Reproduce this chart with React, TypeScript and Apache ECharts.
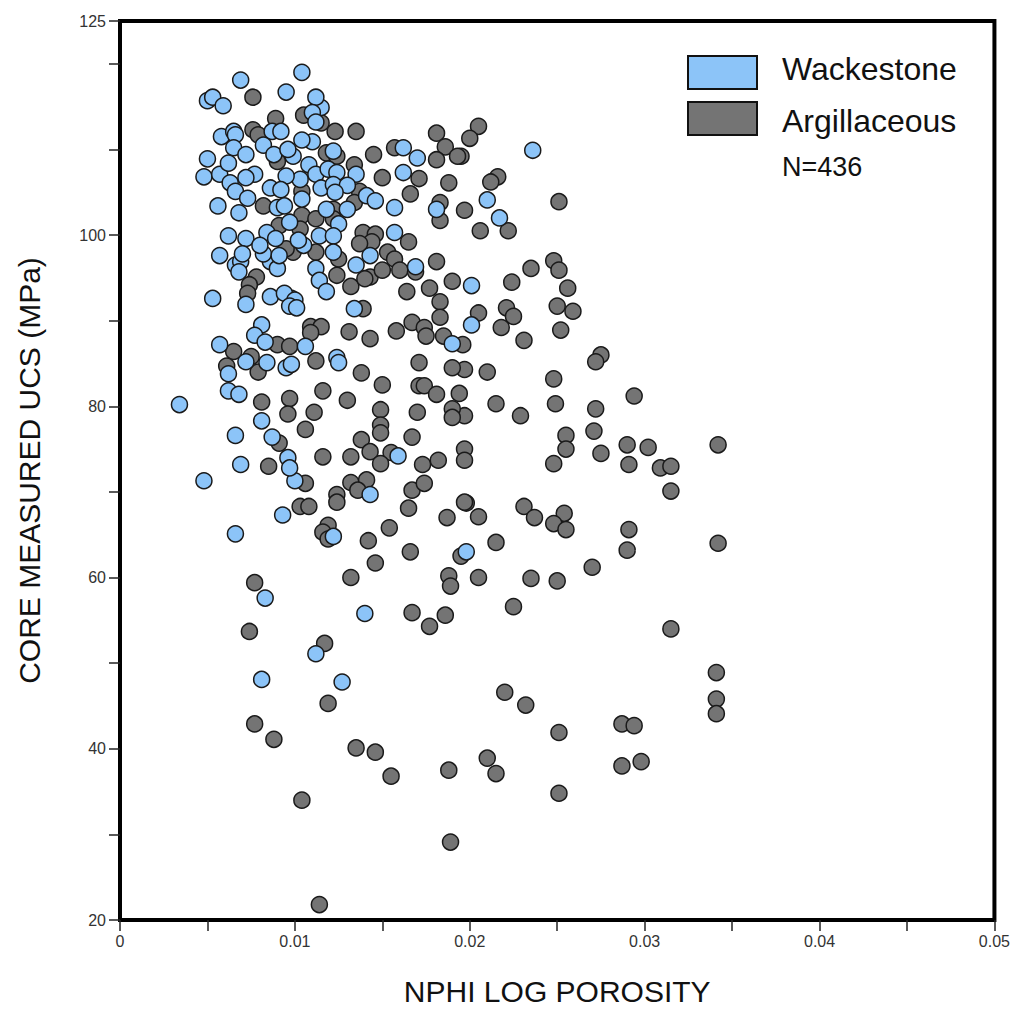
import React, { useEffect, useRef } from "react";
import * as echarts from "echarts";

const seriesNames = ["Wackestone", "Argillaceous"];
const sampleCountLabel = "N=436";
const xTitle = "NPHI LOG POROSITY";
const yTitle = "CORE MEASURED UCS (MPa)";

// [NPHI porosity, UCS MPa]
const argillaceous: [number, number][] = [
  [0.0315,70.1],[0.0198,68.7],[0.0187,67.0],[0.0205,67.1],[0.0231,68.3],[0.0237,67.0],[0.0254,67.5],[0.0248,66.3],[0.0255,65.6],[0.0291,65.6],
  [0.0342,64.0],[0.0215,64.1],[0.0290,63.2],[0.0195,62.5],[0.0270,61.2],[0.0188,60.2],[0.0189,59.0],[0.0205,60.0],[0.0235,59.9],[0.0250,59.6],
  [0.0225,56.6],[0.0186,55.6],[0.0315,54.0],[0.0341,48.9],[0.0220,46.6],[0.0232,45.1],[0.0341,45.8],[0.0341,44.1],[0.0287,42.9],[0.0294,42.7],
  [0.0251,41.9],[0.0210,38.9],[0.0215,37.1],[0.0188,37.5],[0.0287,38.0],[0.0298,38.5],[0.0251,34.8],[0.0189,29.1],
  [0.0106,71.0],[0.0132,71.1],[0.0141,71.4],[0.0136,70.2],[0.0124,69.7],[0.0124,68.8],[0.0167,70.2],[0.0174,71.0],[0.0103,68.3],[0.0108,68.3],
  [0.0165,68.1],[0.0197,68.8],[0.0119,66.1],[0.0116,65.3],[0.0119,64.5],[0.0154,65.8],[0.0142,64.3],[0.0166,63.0],[0.0146,61.7],[0.0077,59.4],
  [0.0132,60.0],[0.0167,55.9],[0.0177,54.3],[0.0074,53.7],[0.0117,52.3],[0.0119,45.3],[0.0077,42.9],[0.0088,41.1],[0.0135,40.1],[0.0146,39.6],
  [0.0155,36.8],[0.0104,34.0],[0.0114,21.8],
  [0.0205,112.7],[0.0200,111.3],[0.0195,109.2],[0.0216,106.8],[0.0212,106.2],[0.0197,102.9],[0.0251,103.9],[0.0206,100.5],[0.0222,100.5],[0.0248,97.0],
  [0.0251,95.9],[0.0235,96.1],[0.0224,94.5],[0.0256,93.8],[0.0250,91.7],[0.0259,91.1],[0.0221,91.5],[0.0225,90.5],[0.0205,90.9],[0.0218,89.2],
  [0.0252,88.9],[0.0231,87.7],[0.0196,87.2],[0.0275,86.0],[0.0272,85.2],[0.0197,84.3],[0.0210,84.0],[0.0248,83.2],[0.0194,81.5],[0.0215,80.3],
  [0.0229,78.9],[0.0249,80.3],[0.0272,79.7],[0.0294,81.2],[0.0197,78.9],[0.0255,76.6],[0.0255,75.0],[0.0271,77.1],[0.0275,74.5],[0.0290,75.5],
  [0.0302,75.2],[0.0342,75.5],[0.0197,75.0],[0.0197,73.7],[0.0248,73.3],[0.0291,73.2],[0.0309,72.8],[0.0315,73.0],
  [0.0105,114.0],[0.0115,113.1],[0.0123,112.1],[0.0135,112.1],[0.0118,109.6],[0.0124,109.2],[0.0145,109.4],[0.0157,110.2],[0.0181,111.9],[0.0186,110.3],
  [0.0181,108.8],[0.0193,109.2],[0.0134,108.2],[0.0150,106.7],[0.0171,106.6],[0.0188,106.1],[0.0104,105.1],[0.0137,105.1],[0.0166,104.8],[0.0134,103.8],
  [0.0122,103.0],[0.0183,103.8],[0.0183,101.7],[0.0104,102.3],[0.0112,101.9],[0.0122,101.9],[0.0103,100.7],[0.0139,100.3],[0.0146,100.1],[0.0144,99.2],
  [0.0137,99.0],[0.0165,99.2],[0.0112,98.0],[0.0125,97.2],[0.0153,98.0],[0.0157,97.2],[0.0124,95.3],[0.0143,95.1],[0.0150,95.9],[0.0160,95.9],
  [0.0169,95.7],[0.0181,96.9],[0.0132,94.0],[0.0140,94.9],[0.0164,93.4],[0.0177,93.8],[0.0190,94.6],
  [0.0183,92.2],[0.0183,90.4],[0.0139,91.4],[0.0167,89.8],[0.0174,89.2],[0.0175,88.2],[0.0158,88.8],[0.0131,88.7],[0.0143,87.9],[0.0185,88.2],
  [0.0171,85.1],[0.0190,84.5],[0.0138,83.9],[0.0150,82.5],[0.0171,82.4],[0.0174,82.4],[0.0181,81.4],[0.0130,80.7],[0.0149,79.6],[0.0170,79.3],
  [0.0190,79.7],[0.0190,78.7],[0.0149,77.8],[0.0149,76.9],[0.0138,76.1],[0.0167,76.4],[0.0132,74.1],[0.0143,74.7],[0.0155,74.6],[0.0149,73.3],
  [0.0173,73.2],[0.0182,73.7],
  [0.0078,95.1],[0.0074,94.2],[0.0073,93.2],[0.0099,98.0],[0.0098,92.6],[0.0109,89.3],[0.0115,89.3],[0.0109,88.6],[0.0065,86.4],[0.0075,85.8],
  [0.0079,84.0],[0.0090,87.2],[0.0097,87.0],[0.0112,85.3],[0.0061,84.7],[0.0081,80.5],[0.0097,80.9],[0.0116,81.8],[0.0096,79.1],[0.0111,79.3],
  [0.0106,77.3],[0.0091,75.7],[0.0116,74.1],[0.0085,73.0],
  [0.0076,116.1],[0.0089,113.6],[0.0076,112.3],[0.0079,111.7],[0.0090,108.6],[0.0082,103.4],[0.0091,101.1],[0.0095,98.4],
];

const wackestone: [number, number][] = [
  [0.0198,63.0],[0.0048,71.3],[0.0100,71.3],[0.0143,69.7],[0.0093,67.3],[0.0122,64.8],[0.0066,65.1],[0.0083,57.6],[0.0140,55.8],[0.0112,51.1],
  [0.0081,48.1],[0.0127,47.8],
  [0.0236,109.9],[0.0210,104.1],[0.0217,102.0],[0.0201,94.1],[0.0201,89.5],[0.0190,87.3],
  [0.0115,114.9],[0.0110,110.9],[0.0104,111.1],[0.0122,109.8],[0.0162,110.2],[0.0170,109.0],[0.0108,108.2],[0.0112,107.1],[0.0119,107.7],[0.0124,107.3],
  [0.0135,107.1],[0.0162,107.3],[0.0103,106.5],[0.0115,105.5],[0.0122,105.9],[0.0130,105.8],[0.0123,105.0],[0.0141,104.6],[0.0146,104.0],[0.0118,103.0],
  [0.0130,103.0],[0.0157,103.2],[0.0181,103.0],[0.0125,101.3],[0.0114,99.9],[0.0122,99.9],[0.0157,100.3],[0.0105,98.8],[0.0122,98.0],[0.0143,97.6],
  [0.0112,96.1],[0.0135,96.5],[0.0169,96.3],[0.0114,94.7],[0.0118,93.4],
  [0.0134,91.4],[0.0124,85.7],[0.0125,85.1],[0.0159,74.2],
  [0.0057,97.6],[0.0066,96.5],[0.0069,96.9],[0.0068,95.7],[0.0086,96.9],[0.0090,96.1],[0.0082,97.8],[0.0091,97.6],[0.0053,92.6],[0.0072,91.9],
  [0.0086,92.8],[0.0094,93.2],[0.0100,92.4],[0.0097,91.7],[0.0101,91.5],[0.0081,89.5],[0.0077,88.3],[0.0083,87.5],[0.0057,87.2],[0.0072,85.2],
  [0.0084,85.1],[0.0095,84.5],[0.0098,84.9],[0.0106,87.0],[0.0062,83.8],[0.0062,81.8],[0.0068,81.4],[0.0034,80.2],[0.0081,78.3],[0.0066,76.6],
  [0.0087,76.4],[0.0096,74.0],[0.0069,73.2],[0.0097,72.8],
  [0.0104,119.0],[0.0069,118.1],[0.0095,116.7],[0.0050,115.7],[0.0053,116.1],[0.0059,115.1],[0.0112,116.1],[0.0110,114.3],[0.0112,113.2],[0.0058,111.5],
  [0.0065,112.1],[0.0066,111.7],[0.0087,112.1],[0.0092,112.1],[0.0050,108.9],[0.0065,110.2],[0.0072,109.4],[0.0082,110.5],[0.0088,109.4],[0.0099,109.2],
  [0.0096,110.0],[0.0048,106.8],[0.0057,107.1],[0.0062,108.4],[0.0077,107.1],[0.0072,106.7],[0.0095,106.9],[0.0063,106.1],[0.0066,105.1],[0.0086,105.5],
  [0.0092,105.3],[0.0104,104.2],[0.0073,104.3],[0.0090,103.2],[0.0094,103.4],[0.0056,103.4],[0.0068,102.6],[0.0097,101.5],[0.0084,100.3],[0.0062,99.9],
  [0.0072,99.6],[0.0080,98.8],[0.0089,99.6],[0.0102,99.4],[0.0070,97.8],
];

const xMin = 0, xMax = 0.05, xStep = 0.005;
const yMin = 20, yMax = 125, yStep = 10;
const yLabelValues = [20, 40, 60, 80, 100, 125];

const BLUE = "#8CC4F8";
const GRAY = "#747474";
const EDGE = "#1a1a1a";
const FONT = "'Liberation Sans', Arial, sans-serif";

export default function App() {
  const ref = useRef<HTMLDivElement>(null);
  useEffect(() => {
    if (!ref.current) return;
    const chart = echarts.init(ref.current, null, { renderer: "svg" });
    const tickStyle = { color: "#222", width: 1.5 };
    chart.setOption({
      animation: false,
      backgroundColor: "#fff",
      grid: {
        left: 120, right: 18, top: 21, bottom: 83,
        show: true, borderColor: "#000", borderWidth: 4, backgroundColor: "transparent",
      },
      xAxis: {
        type: "value", min: xMin, max: xMax, interval: xStep,
        axisLine: { show: false },
        axisTick: { show: true, length: 11, lineStyle: tickStyle },
        splitLine: { show: false },
        axisLabel: {
          fontSize: 16, color: "#333", fontFamily: FONT, margin: 13,
          showMinLabel: true, showMaxLabel: true, hideOverlap: false,
          formatter: (v: number) => {
            const k = Math.round(v / xStep);
            if (k % 2 !== 0) return "";
            return k === 0 ? "0" : (k * xStep).toFixed(2);
          },
        },
        name: xTitle, nameLocation: "middle", nameGap: 56,
        nameTextStyle: { fontSize: 30, color: "#111", fontFamily: FONT },
      },
      yAxis: {
        type: "value", min: yMin, max: yMax, interval: yStep,
        axisLine: { show: false },
        axisTick: { show: true, length: 11, lineStyle: tickStyle },
        splitLine: { show: false },
        axisLabel: {
          fontSize: 16, color: "#333", fontFamily: FONT, margin: 14,
          showMinLabel: true, showMaxLabel: true, hideOverlap: false,
          formatter: (v: number) => (yLabelValues.includes(Math.round(v)) ? String(Math.round(v)) : ""),
        },
        name: yTitle, nameLocation: "middle", nameGap: 76,
        nameTextStyle: { fontSize: 30, color: "#111", fontFamily: FONT },
      },
      series: [
        {
          name: seriesNames[1], type: "scatter", data: argillaceous, symbolSize: 16,
          itemStyle: { color: GRAY, borderColor: EDGE, borderWidth: 1.5, opacity: 1 },
        },
        {
          name: seriesNames[0], type: "scatter", data: wackestone, symbolSize: 16,
          itemStyle: { color: BLUE, borderColor: EDGE, borderWidth: 1.5, opacity: 1 },
        },
      ],
      graphic: [
        { type: "rect", shape: { x: 688, y: 56, width: 69, height: 33 }, style: { fill: BLUE, stroke: "#111", lineWidth: 2 } },
        { type: "rect", shape: { x: 688, y: 102, width: 69, height: 33 }, style: { fill: GRAY, stroke: "#111", lineWidth: 2 } },
        { type: "text", x: 782, y: 69, style: { text: seriesNames[0], fontSize: 32, fontFamily: FONT, fill: "#111", verticalAlign: "middle", align: "left" } },
        { type: "text", x: 782, y: 121, style: { text: seriesNames[1], fontSize: 32, fontFamily: FONT, fill: "#111", verticalAlign: "middle", align: "left" } },
        { type: "text", x: 782, y: 167, style: { text: sampleCountLabel, fontSize: 27, fontFamily: FONT, fill: "#111", verticalAlign: "middle", align: "left" } },
      ],
    });
    return () => chart.dispose();
  }, []);
  return <div ref={ref} style={{ position: "fixed", left: 0, top: 0, width: 1013, height: 1011 }} />;
}
